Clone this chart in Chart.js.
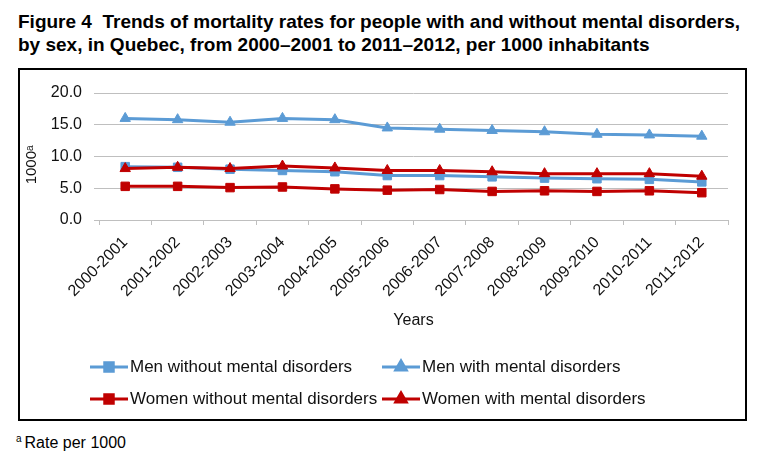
<!DOCTYPE html>
<html>
<head>
<meta charset="utf-8">
<script src="https://cdn.jsdelivr.net/npm/chart.js@4"></script>
<style>
  body { margin: 0; background: #fff; width: 767px; height: 465px; position: relative; overflow: hidden; }
  #title { position: absolute; left: 18px; top: 10px; font: bold 19px 'Liberation Sans', Arial, sans-serif; line-height: 23px; color: #000; white-space: nowrap; }
  #box { position: absolute; left: 18px; top: 68px; width: 725px; height: 349px; border: 2px solid #000; }
  #foot { position: absolute; left: 16px; top: 433px; font: 16px 'Liberation Sans', Arial, sans-serif; color: #000; }
  #foot sup { font-size: 10px; margin-right: 3px; }
</style>
</head>
<body>
<div id="title">Figure 4&nbsp; Trends of mortality rates for people with and without mental disorders,<br>by sex, in Quebec, from 2000–2001 to 2011–2012, per 1000 inhabitants</div>
<div id="box"><canvas id="chart" width="725" height="349"></canvas></div>
<div id="foot"><sup>a</sup>Rate per 1000</div>
<script>
const years = ['2000-2001', '2001-2002', '2002-2003', '2003-2004', '2004-2005', '2005-2006',
  '2006-2007', '2007-2008', '2008-2009', '2009-2010', '2010-2011', '2011-2012'];
const menWithout = [8.4, 8.3, 8.0, 7.8, 7.6, 7.0, 7.0, 6.8, 6.6, 6.5, 6.4, 6.0];
const menWith = [16.0, 15.8, 15.4, 16.0, 15.8, 14.5, 14.3, 14.1, 13.9, 13.5, 13.4, 13.2];
const womenWithout = [5.3, 5.3, 5.1, 5.2, 4.9, 4.7, 4.8, 4.5, 4.6, 4.5, 4.6, 4.3];
const womenWith = [8.1, 8.3, 8.1, 8.5, 8.2, 7.8, 7.8, 7.6, 7.3, 7.3, 7.3, 6.9];

const BLUE = '#5B9BD5';
const RED = '#C00000';
const FONT = "'Liberation Sans', Arial, sans-serif";

function series(label, data, color, shape, order) {
    return {
        label: label,
        data: data,
        borderColor: color,
        backgroundColor: color,
        borderWidth: 3,
        pointStyle: shape,
        pointRadius: 6,
        pointBorderWidth: 1,
        pointHoverRadius: 6,
        tension: 0,
        order: order
    };
}

// legend in two columns, like the original
const gridLegend = {
    id: 'gridLegend',
    afterDraw(chart) {
        const ctx = chart.ctx;
        const cols = [70, 362];
        const rows = [297, 329];
        const ds = chart.data.datasets;
        ctx.save();
        ds.forEach((d, i) => {
            const x = cols[i % 2];
            const y = rows[Math.floor(i / 2)];
            ctx.strokeStyle = d.borderColor;
            ctx.lineWidth = 3;
            ctx.beginPath();
            ctx.moveTo(x, y);
            ctx.lineTo(x + 38, y);
            ctx.stroke();
            Chart.helpers.drawPoint(ctx, {
                pointStyle: d.pointStyle,
                radius: 6,
                borderWidth: 1,
                rotation: 0
            }, x + 19, y);
            ctx.fillStyle = d.backgroundColor;
            ctx.fill();
            ctx.fillStyle = '#111';
            ctx.font = '17px ' + FONT;
            ctx.textBaseline = 'middle';
            ctx.fillText(d.label, x + 40, y);
        });
        ctx.restore();
    }
};

const ctx = document.getElementById('chart').getContext('2d');
new Chart(ctx, {
    type: 'line',
    data: {
        labels: years,
        datasets: [
            series('Men without mental disorders', menWithout, BLUE, 'rect', 4),
            series('Men with mental disorders', menWith, BLUE, 'triangle', 3),
            series('Women without mental disorders', womenWithout, RED, 'rect', 2),
            series('Women with mental disorders', womenWith, RED, 'triangle', 1)
        ]
    },
    options: {
        responsive: false,
        animation: false,
        layout: { padding: { top: 23, right: 17, bottom: 89, left: 0 } },
        plugins: { legend: { display: false }, tooltip: { enabled: false } },
        scales: {
            x: {
                offset: true,
                grid: { offset: true, drawOnChartArea: false, drawTicks: true, tickLength: 5, color: '#BFBFBF' },
                border: { display: true, color: '#BFBFBF', width: 1 },
                ticks: { maxRotation: 45, minRotation: 45, color: '#111', font: { family: FONT, size: 16 }, padding: 8 },
                title: { display: true, text: 'Years', color: '#111', font: { family: FONT, size: 16 }, padding: { top: 0, bottom: 0 } },
                afterFit(scale) { scale.height = 110; }
            },
            y: {
                min: 0,
                max: 20,
                ticks: { stepSize: 5, color: '#111', font: { family: FONT, size: 16 }, padding: 12,
                    callback: v => v.toFixed(1) },
                grid: { color: '#BFBFBF', drawTicks: true, tickLength: 5 },
                border: { display: false },
                title: { display: true, text: '1000ᵃ    ', color: '#111', font: { family: FONT, size: 15 }, padding: { top: 3, bottom: 0 } },
                afterFit(scale) { scale.width = 79; }
            }
        }
    },
    plugins: [gridLegend]
});
</script>
</body>
</html>
